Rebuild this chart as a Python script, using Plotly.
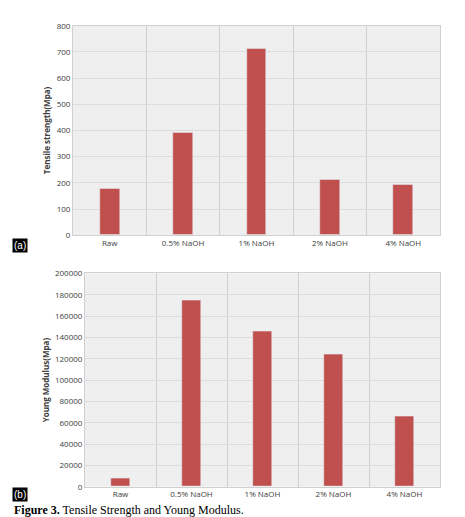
import plotly.graph_objects as go

categories = ["Raw", "0.5% NaOH", "1% NaOH", "2% NaOH", "4% NaOH"]
tensile = [178, 393, 712, 213, 192]
young = [7500, 175000, 145500, 124000, 65500]

W, H = 465, 517
bar_color = "#c0504d"

fig = go.Figure()
fig.add_trace(go.Bar(x=categories, y=tensile, marker_color=bar_color, width=0.27,
                     xaxis="x", yaxis="y"))
fig.add_trace(go.Bar(x=categories, y=young, marker_color=bar_color, width=0.27,
                     xaxis="x2", yaxis="y2"))

tick_font = dict(family="Open Sans", size=8, color="#404040")
xa = dict(showgrid=True, gridcolor="#d0d0d0", tickson="boundaries", ticks="",
          tickfont=tick_font, showline=True, linecolor="#d0d0d0", mirror=True,
          fixedrange=True)
ya = dict(showgrid=True, gridcolor="#dcdcdc", tickfont=tick_font, zeroline=False,
          ticks="", tickformat="d", showline=True, linecolor="#d0d0d0", mirror=True,
          fixedrange=True)

fig.update_layout(
    width=W, height=H, margin=dict(l=0, r=0, t=0, b=0),
    paper_bgcolor="white", plot_bgcolor="#efefef", showlegend=False, bargap=0,
    xaxis=dict(xa, domain=[65 / W, 432 / W], anchor="y"),
    yaxis=dict(ya, domain=[1 - 226 / H, 1 - 12 / H], range=[0, 800], dtick=100,
               anchor="x",
               title=dict(text="<b>Tensile strength(Mpa)</b>",
                          font=dict(family="Open Sans", size=8, color="#404040"),
                          standoff=4)),
    xaxis2=dict(xa, domain=[77 / W, 432 / W], anchor="y2"),
    yaxis2=dict(ya, domain=[1 - 483 / H, 1 - 265 / H], range=[0, 200000], dtick=20000,
                anchor="x2",
                title=dict(text="<b>Young Modulus(Mpa)</b>",
                           font=dict(family="Open Sans", size=8, color="#404040"),
                           standoff=4)),
)

for lab, ypx in [("(a)", 237), ("(b)", 491)]:
    fig.add_annotation(text=lab, xref="paper", yref="paper", x=4 / W, y=1 - ypx / H,
                       xanchor="left", yanchor="middle", showarrow=False,
                       bgcolor="black", font=dict(family="Liberation Sans", size=10, color="white"),
                       borderpad=1)

fig.add_annotation(text="<b>Figure 3.</b> Tensile Strength and Young Modulus.",
                   xref="paper", yref="paper", x=4 / W, y=1 - 507 / H,
                   xanchor="left", yanchor="middle", showarrow=False,
                   font=dict(family="Liberation Serif", size=12, color="black"))

fig.write_html("out.html")
